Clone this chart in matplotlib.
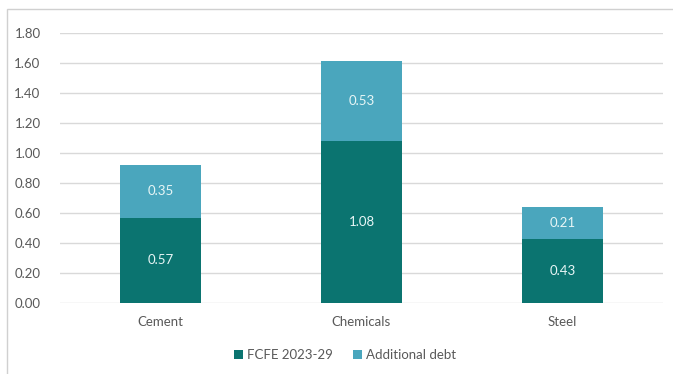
import numpy as np
import matplotlib.pyplot as plt
from matplotlib.patches import Rectangle

categories = ["Cement", "Chemicals", "Steel"]
fcfe = [0.57, 1.08, 0.43]
debt = [0.35, 0.53, 0.21]
series_names = ["FCFE 2023-29", "Additional debt"]

plt.rcParams['font.family'] = ['Lato', 'DejaVu Sans']

dark = "#0b7470"
light = "#4aa6bd"
grey_text = "#595959"

fig = plt.figure(figsize=(6.73, 3.74), dpi=100)
ax = fig.add_axes([60 / 673, 1 - 303 / 374, 603 / 673, 270 / 374])

# outer chart border
fig.patches.append(Rectangle((7 / 673, -0.05), 1.0, 1 - 9 / 374 + 0.05,
                             transform=fig.transFigure, fill=False,
                             edgecolor="#d0d0d0", linewidth=1.0))

x = np.arange(len(categories))
b1 = ax.bar(x, fcfe, width=0.4, color=dark, label=series_names[0], zorder=3)
b2 = ax.bar(x, debt, width=0.4, bottom=fcfe, color=light, label=series_names[1], zorder=3)

for rect, v in zip(b1, fcfe):
    ax.text(rect.get_x() + rect.get_width() / 2, v / 2, f"{v:.2f}",
            ha="center", va="center", color="#e8f6f6", fontsize=9.5, zorder=4)
for rect, base, v in zip(b2, fcfe, debt):
    ax.text(rect.get_x() + rect.get_width() / 2, base + v / 2, f"{v:.2f}",
            ha="center", va="center", color="#e8f6f6", fontsize=9.5, zorder=4)

ax.set_xlim(-0.5, 2.5)
ax.set_ylim(0, 1.8)
ax.set_yticks(np.arange(0, 1.81, 0.2))
ax.set_yticklabels([f"{t:.2f}" for t in np.arange(0, 1.81, 0.2)])
ax.set_xticks(x)
ax.set_xticklabels(categories)
ax.tick_params(axis="both", length=0, labelsize=9.5, labelcolor=grey_text)
ax.tick_params(axis="y", pad=14)
ax.tick_params(axis="x", pad=9)
ax.grid(axis="y", color="#d9d9d9", linewidth=1.0, zorder=0)
for s in ax.spines.values():
    s.set_visible(False)

fig.legend(handles=[b1, b2], labels=series_names, loc="center",
           bbox_to_anchor=(345 / 673, 1 - 355 / 374), ncol=2, frameon=False,
           fontsize=9.5, labelcolor=grey_text, handlelength=0.7, handleheight=0.7,
           handletextpad=0.3, columnspacing=1.5)

plt.savefig("out.png", dpi=100)
